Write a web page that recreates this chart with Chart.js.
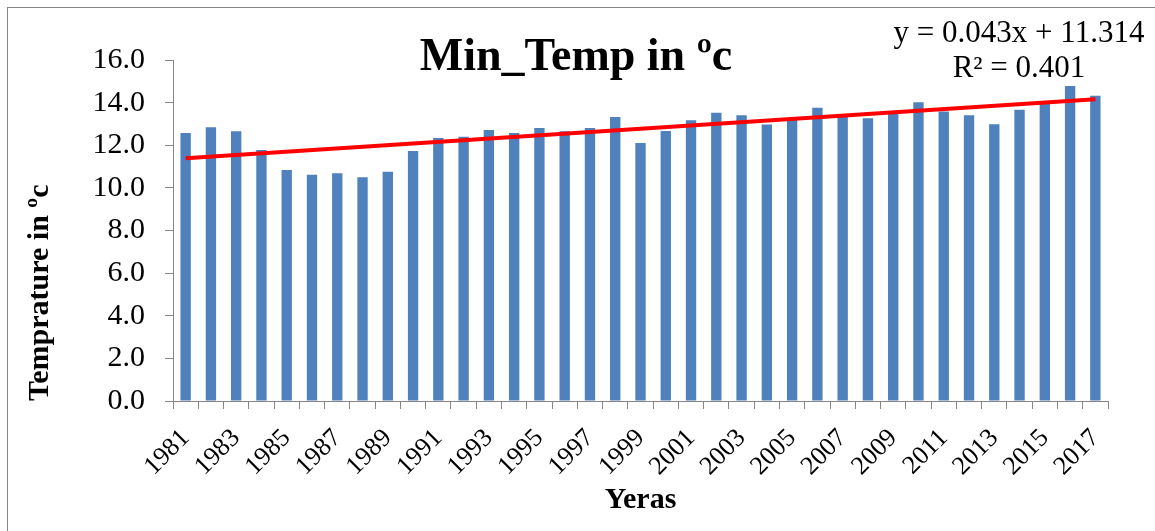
<!DOCTYPE html>
<html>
<head>
<meta charset="utf-8">
<script src="https://cdn.jsdelivr.net/npm/chart.js@4.4.1/dist/chart.umd.min.js"></script>
<style>
  html, body { margin: 0; padding: 0; background: #ffffff; }
  #wrap { position: relative; width: 1155px; height: 531px; }
  canvas { display: block; }
</style>
</head>
<body>
<div id="wrap"><canvas id="c" width="1155" height="531"></canvas></div>
<script>
const years = ['1981','1982','1983','1984','1985','1986','1987','1988','1989','1990',
  '1991','1992','1993','1994','1995','1996','1997','1998','1999','2000',
  '2001','2002','2003','2004','2005','2006','2007','2008','2009','2010',
  '2011','2012','2013','2014','2015','2016','2017'];
const minTemp = [12.58, 12.84, 12.66, 11.78, 10.84, 10.61, 10.69, 10.50, 10.76, 11.73,
  12.34, 12.40, 12.72, 12.58, 12.81, 12.66, 12.81, 13.33, 12.11, 12.67,
  13.17, 13.53, 13.41, 12.97, 13.20, 13.76, 13.32, 13.27, 13.52, 14.02,
  13.58, 13.41, 12.98, 13.66, 14.00, 14.78, 14.32];
const trendPoints = [ { x: '1981', y: 11.39 }, { x: '2017', y: 14.16 } ];
const chartTitle = 'Min_Temp in ºc';
const equationLines = ['y = 0.043x + 11.314', 'R² = 0.401'];
const yTitle = 'Temprature in ºc';
const xTitle = 'Yeras';

const SERIF = '"Liberation Serif", "Times New Roman", Times, serif';
const AXIS = '#868686';

const textPlugin = {
  id: 'textPlugin',
  beforeDraw(chart) {
    const ctx = chart.ctx;
    ctx.save();
    ctx.fillStyle = '#ffffff';
    ctx.fillRect(0, 0, chart.width, chart.height);
    ctx.strokeStyle = AXIS;
    ctx.lineWidth = 1;
    ctx.strokeRect(7.5, 7.5, chart.width + 20, chart.height + 20);
    ctx.restore();
  },
  afterDraw(chart) {
    const ctx = chart.ctx;
    ctx.save();
    ctx.fillStyle = '#000000';
    ctx.textBaseline = 'alphabetic';
    ctx.textAlign = 'center';
    ctx.font = 'bold 46px ' + SERIF;
    ctx.fillText(chartTitle, 576, 70);
    ctx.font = '31px ' + SERIF;
    ctx.fillText(equationLines[0], 1019, 42);
    ctx.fillText(equationLines[1], 1019, 77);
    ctx.restore();
  }
};

new Chart(document.getElementById('c'), {
  type: 'bar',
  data: {
    labels: years,
    datasets: [
      {
        type: 'line',
        data: trendPoints,
        borderColor: '#FF0000',
        borderWidth: 4,
        pointRadius: 0,
        fill: false,
        order: 0
      },
      {
        type: 'bar',
        data: minTemp,
        backgroundColor: '#4F81BD',
        borderWidth: 0,
        categoryPercentage: 1.0,
        barPercentage: 0.41,
        order: 1
      }
    ]
  },
  options: {
    responsive: false,
    animation: false,
    devicePixelRatio: 1,
    layout: { padding: { top: 60, right: 47, left: 0, bottom: 0 } },
    plugins: {
      legend: { display: false },
      tooltip: { enabled: false },
      title: { display: false }
    },
    scales: {
      x: {
        offset: true,
        grid: { display: true, offset: true, drawOnChartArea: false, drawTicks: true, tickLength: 8, color: AXIS, lineWidth: 1 },
        border: { display: true, color: AXIS, width: 1 },
        ticks: {
          autoSkip: false,
          minRotation: 45,
          maxRotation: 45,
          padding: 14,
          color: '#000000',
          font: { family: SERIF, size: 26 },
          callback: function (value, index) { return index % 2 === 0 ? this.getLabelForValue(value) : ''; }
        },
        title: {
          display: true,
          text: xTitle,
          color: '#000000',
          font: { family: SERIF, size: 30, weight: 'bold' },
          padding: { top: 0, bottom: 13 }
        },
        afterFit(scale) { scale.height = 130; }
      },
      y: {
        min: 0,
        max: 16,
        grid: { display: true, drawOnChartArea: false, drawTicks: true, tickLength: 8, color: AXIS, lineWidth: 1 },
        border: { display: true, color: AXIS, width: 1 },
        ticks: {
          stepSize: 2,
          padding: 20,
          color: '#000000',
          font: { family: SERIF, size: 30 },
          callback: (v) => Number(v).toFixed(1)
        },
        title: {
          display: true,
          text: yTitle,
          align: 'start',
          color: '#000000',
          font: { family: SERIF, size: 30, weight: 'bold' },
          padding: { top: 22, bottom: 0 }
        },
        afterFit(scale) { scale.width = 173; }
      }
    }
  },
  plugins: [textPlugin]
});
</script>
</body>
</html>
